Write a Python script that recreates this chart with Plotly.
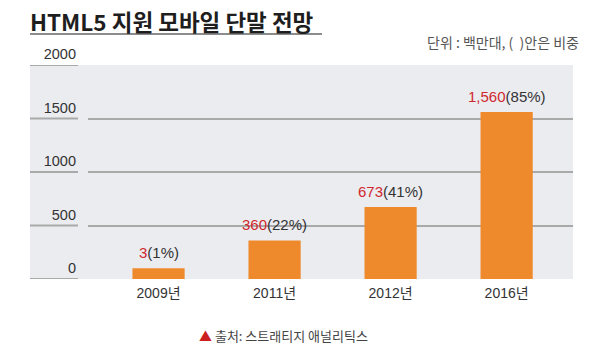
import plotly.graph_objects as go

# ---- data ----
categories = ["2009년", "2011년", "2012년", "2016년"]
units = [3, 360, 673, 1560]          # 백만대
shares = [1, 22, 41, 85]             # 비중 (%)
y_ticks = [0, 500, 1000, 1500, 2000]
title_text = "HTML5 지원 모바일 단말 전망"
unit_text = "단위 : 백만대, (  )안은 비중"
source_text = "출처: 스트래티지 애널리틱스"

# ---- style ----
W, H = 600, 357
ML, MR, MT, MB = 88, 27, 65, 78
PW, PH = W - ML - MR, H - MT - MB
BAR_MIN_VISIBLE = 100   # tiny values drawn as a visible stub, as in the original infographic
FONT = "Liberation Sans, Arial, Noto Sans CJK KR, sans-serif"
KFONT = "Noto Sans CJK KR, Liberation Sans, sans-serif"
ORANGE = "#ef8a2c"
RED = "#d0282e"
PANEL = "#ebecf0"
GRID = "#a9a9a9"


def px_x(p):
    return (p - ML) / PW


def px_y(p):
    return (MT + PH - p) / PH


bar_heights = [max(v, BAR_MIN_VISIBLE) for v in units]

fig = go.Figure()
fig.add_trace(go.Bar(
    x=categories, y=bar_heights, width=0.45,
    marker=dict(color=ORANGE, line=dict(width=0)),
    hovertext=[f"{v:,} ({s}%)" for v, s in zip(units, shares)],
    hoverinfo="x+text",
))

shapes = [
    # gray panel extending left under the tick labels
    dict(type="rect", xref="paper", yref="paper", x0=px_x(30), x1=1, y0=0, y1=1,
         fillcolor=PANEL, line=dict(width=0), layer="below"),
    # title underline
    dict(type="line", xref="paper", yref="paper", x0=px_x(30), x1=px_x(322),
         y0=px_y(34), y1=px_y(34), line=dict(color="#8c8c8c", width=2)),
]
# left gridline segments (the axis labels sit above these)
for t in y_ticks:
    shapes.append(dict(type="line", xref="paper", yref="y", x0=px_x(30), x1=px_x(78),
                       y0=t, y1=t, line=dict(color=GRID, width=2), layer="below"))

annotations = []
for c, h, v, s in zip(categories, bar_heights, units, shares):
    annotations.append(dict(
        x=c, y=h, xref="x", yref="y", yanchor="bottom", xanchor="center",
        yshift=5, showarrow=False,
        text=f"<span style='color:{RED}'>{v:,}</span>({s}%)",
        font=dict(family=FONT, size=15, color="#333333"),
    ))

annotations += [
    dict(x=px_x(28), y=px_y(21), xref="paper", yref="paper", xanchor="left", yanchor="middle",
         showarrow=False, text=f"<b>{title_text}</b>",
         font=dict(family=KFONT, size=22.5, color="#1e1e1e")),
    dict(x=px_x(581), y=px_y(42), xref="paper", yref="paper", xanchor="right", yanchor="middle",
         showarrow=False, text=unit_text,
         font=dict(family=KFONT, size=14, color="#555555")),
    dict(x=px_x(197), y=px_y(336), xref="paper", yref="paper", xanchor="left", yanchor="middle",
         showarrow=False,
         text=f"<span style='color:#cc1f1f'>▲</span> {source_text}",
         font=dict(family=KFONT, size=13, color="#444444")),
]

fig.update_layout(
    template="none",
    width=W, height=H, autosize=False,
    margin=dict(l=ML, r=MR, t=MT, b=MB, pad=0, autoexpand=False),
    paper_bgcolor="white", plot_bgcolor=PANEL,
    showlegend=False,
    shapes=shapes, annotations=annotations,
    xaxis=dict(
        type="category", categoryorder="array", categoryarray=categories,
        range=[-0.608, 3.572], showgrid=False, zeroline=False, showline=False,
        ticks="", tickfont=dict(family=FONT, size=14, color="#333333"),
        ticklabelstandoff=4, fixedrange=True, automargin=False,
    ),
    yaxis=dict(
        range=[0, 2000], tickvals=y_ticks, ticktext=[str(t) for t in y_ticks],
        showgrid=True, gridcolor=GRID, gridwidth=2, zeroline=False, showline=False,
        ticks="", tickfont=dict(family=FONT, size=14.5, color="#333333"),
        ticklabelshift=-11, ticklabelstandoff=11, fixedrange=True, automargin=False,
    ),
)

fig.write_html(
    "out.html",
    config={"displayModeBar": False},
    post_script="document.body.style.margin='0';document.body.style.overflow='hidden';",
)
